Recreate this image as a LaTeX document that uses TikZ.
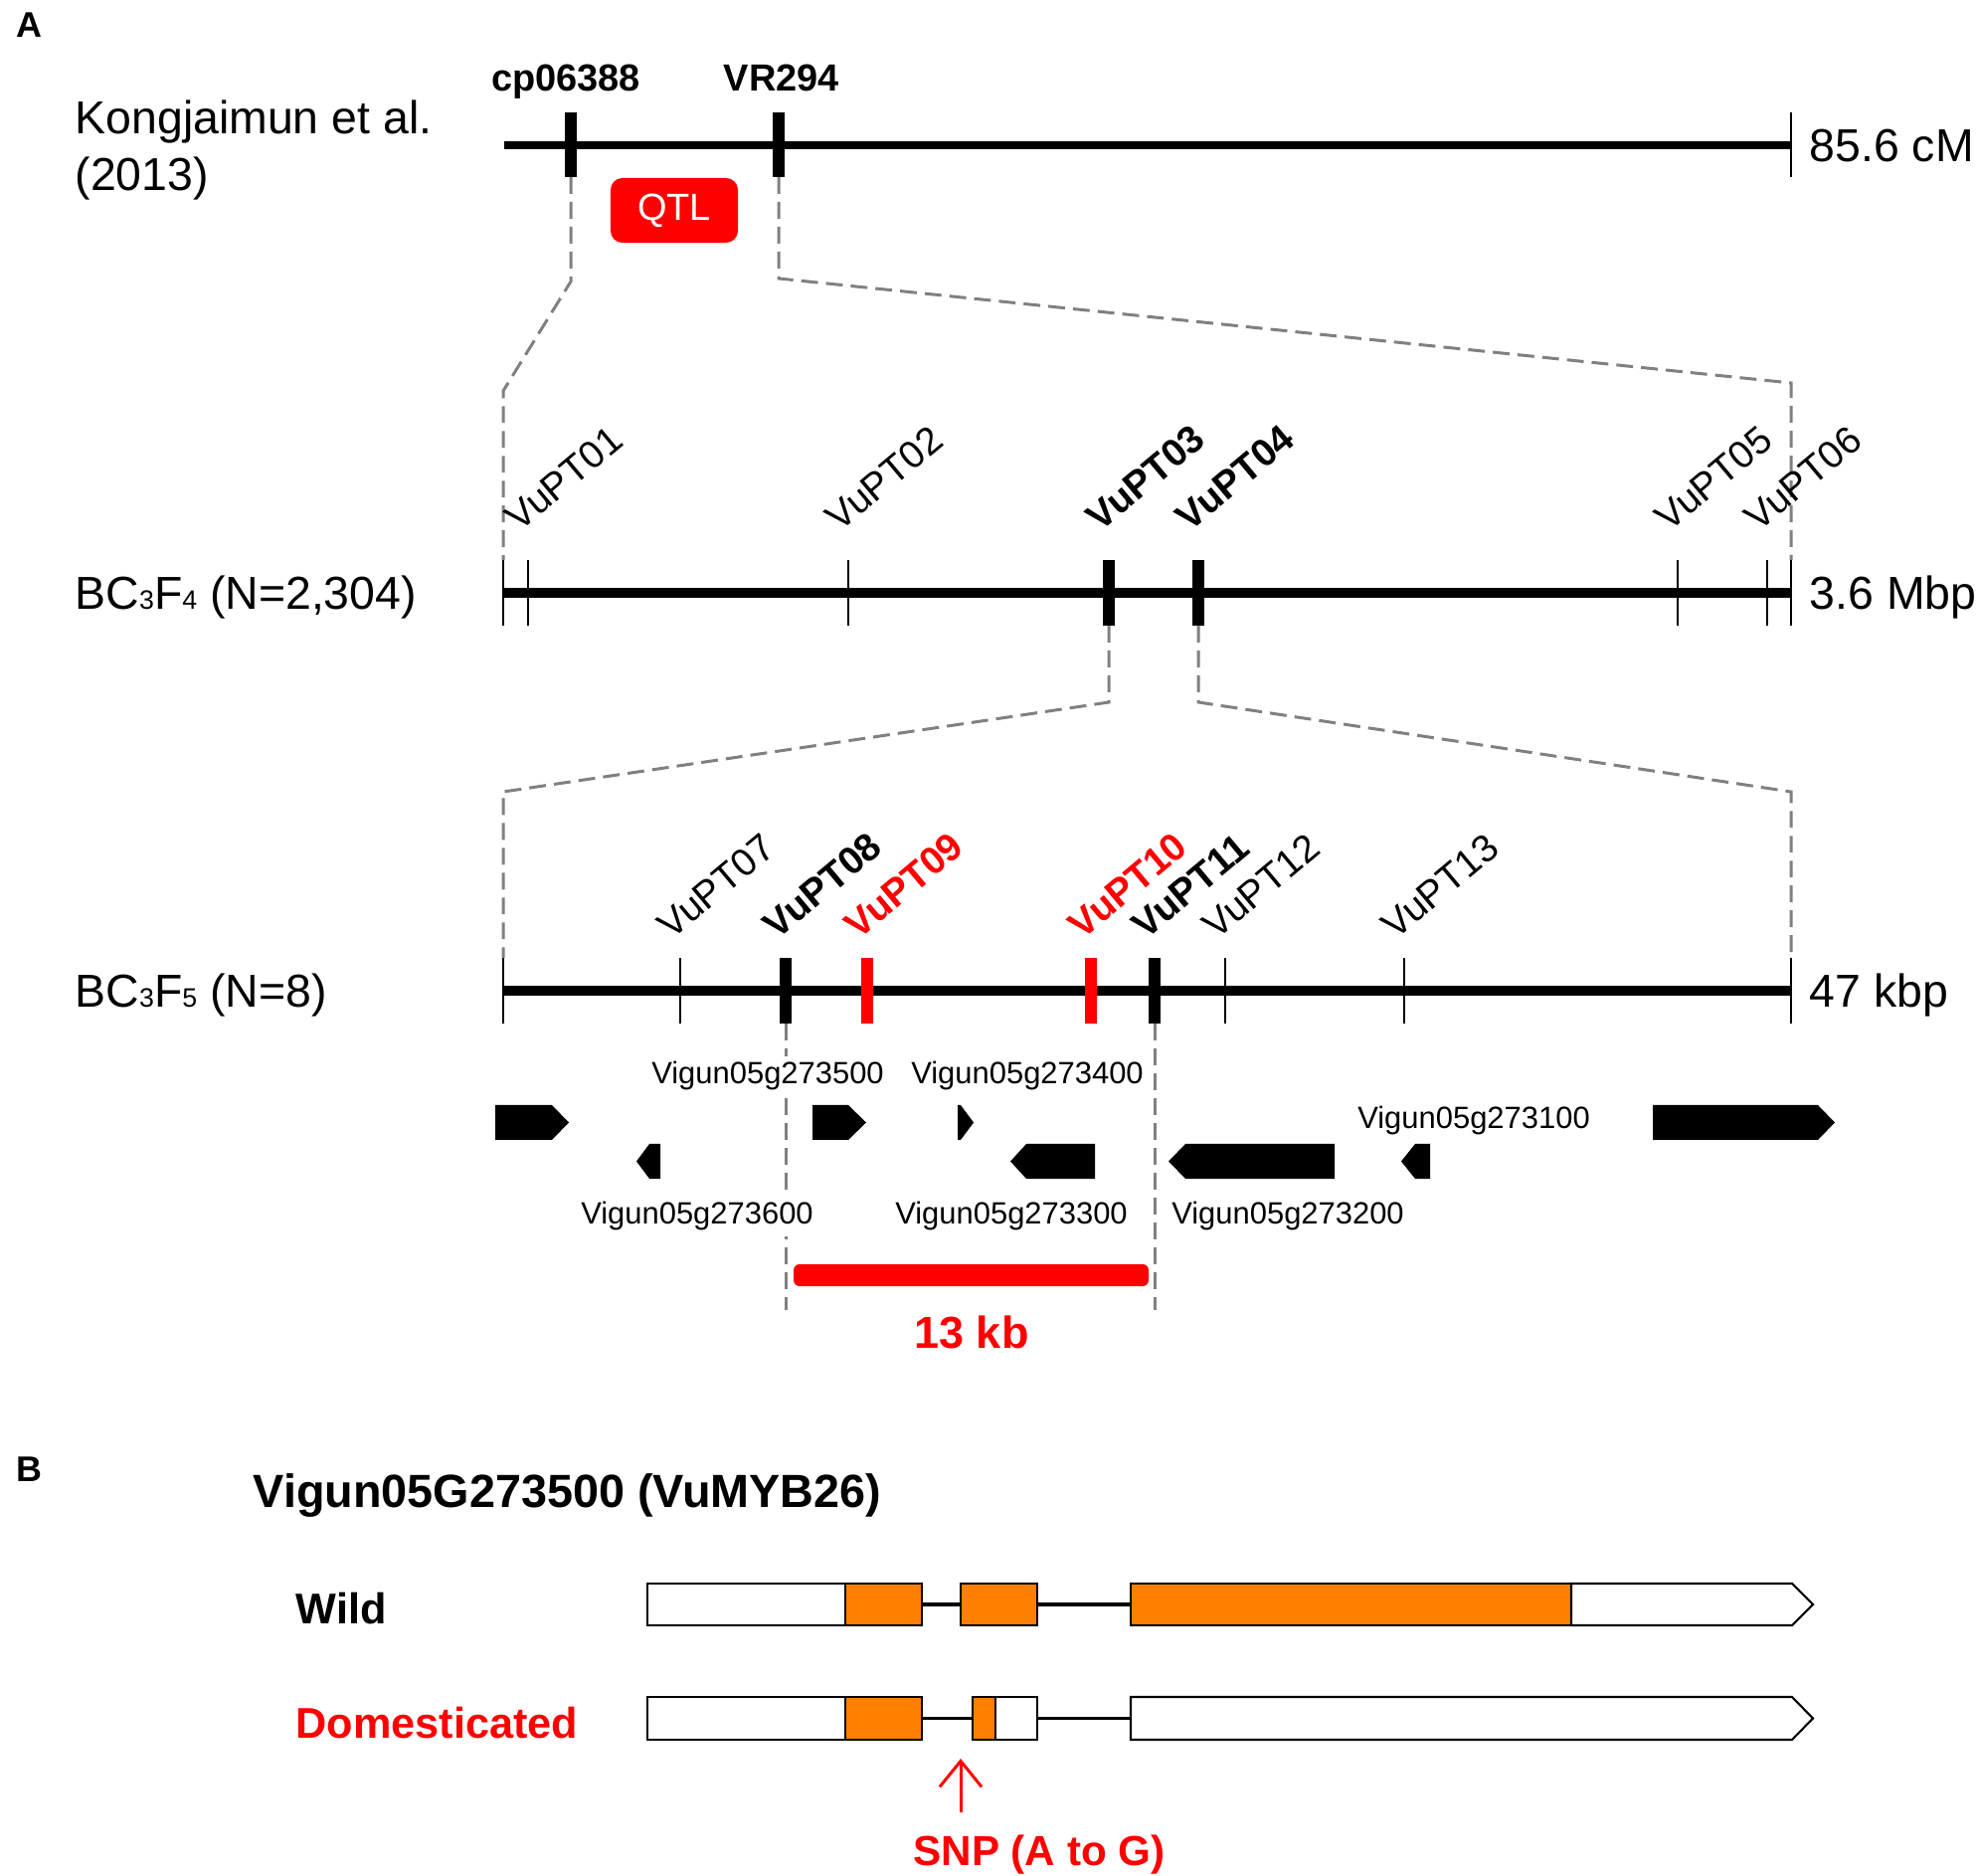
\documentclass[tikz,border=0pt]{standalone}
\usepackage{fontspec}
\setmainfont{Liberation Sans}
\usetikzlibrary{arrows.meta}
\definecolor{myred}{RGB}{255,0,0}
\definecolor{myorange}{RGB}{255,128,0}
\definecolor{dgray}{RGB}{128,128,128}
\newcommand{\myfs}[1]{\fontsize{#1}{#1}\selectfont}
\begin{document}
\begin{tikzpicture}[x=0.01cm,y=-0.01cm,
  lbl/.style={inner sep=0pt, anchor=base west, font=\myfs{13.2pt}},
  mk/.style={inner sep=0pt, anchor=base west, rotate=40, font=\myfs{11pt}},
  mkb/.style={inner sep=0pt, anchor=base west, rotate=40, font=\myfs{11pt}\bfseries},
  gl/.style={inner sep=1.5pt, fill=white, anchor=base, font=\myfs{8.8pt}},
  chromA/.style={line width=2.3pt},
  chrom/.style={line width=2.6pt},
  thintick/.style={line width=0.75pt},
  thicktick/.style={line width=3.3pt},
  zoomdash/.style={dgray, line width=0.85pt, dash pattern=on 4.8pt off 2.3pt},
  exon/.style={draw=black, line width=0.6pt, fill=myorange},
  utr/.style={draw=black, line width=0.6pt, fill=white},
  intron/.style={line width=1pt},
]
\useasboundingbox (0,0) rectangle (1988,1886);

% ---------- panel labels ----------
\node[inner sep=0pt, anchor=base west, font=\myfs{10.2pt}\bfseries] (pA) at (16,38) {A};
\node[inner sep=0pt, anchor=base west, font=\myfs{10.2pt}\bfseries] (pB) at (16,1489) {B};

% ---------- row 1 ----------
\node[lbl] (kong1) at (75,135) {Kongjaimun et al.};
\node[lbl] (kong2) at (75,192) {(2013)};
\draw[chromA] (507,146) -- (1801,146);
\draw[thicktick] (574,113) -- (574,178);
\draw[thicktick] (783,113) -- (783,178);
\draw[thintick] (1801,113) -- (1801,178);
\coordinate (cp) at (574,178);
\coordinate (vr) at (783,178);
\node[inner sep=0pt, anchor=base, font=\myfs{10.8pt}\bfseries] (cpl) at (569,92) {cp06388};
\node[inner sep=0pt, anchor=base, font=\myfs{10.8pt}\bfseries] (vrl) at (786,92) {VR294};
\node[lbl] (cM) at (1819,163) {85.6 cM};
\node[fill=myred, rounded corners=3.4pt, minimum width=1.28cm, minimum height=0.65cm,
      inner sep=0pt, text=white, font=\myfs{10.8pt}] (qtl) at (678,211.5) {QTL};

% ---------- row 2 ----------
\coordinate (r2Ltop) at (506,563);
\coordinate (r2Rtop) at (1801,563);
\coordinate (p03) at (1115,629);
\coordinate (p04) at (1205,629);
\draw[zoomdash] (cp) -- (574,283) -- (506,393) -- (r2Ltop);
\draw[zoomdash] (vr) -- (783,280) -- (1801,385) -- (r2Rtop);

\node[lbl] (bc4) at (75,613) {BC{\myfs{7.6pt}3}F{\myfs{7.6pt}4} (N=2,304)};
\draw[chrom] (506,596) -- (1801,596);
\foreach \x in {506,531,853,1687,1777,1801} \draw[thintick] (\x,563) -- (\x,629);
\foreach \x in {1115,1205} \draw[thicktick] (\x,563) -- (\x,629);
\node[mk]  (m01) at (522,536) {VuPT01};
\node[mk]  (m02) at (844,536) {VuPT02};
\node[mkb] (m03) at (1106,536) {VuPT03};
\node[mkb] (m04) at (1196,536) {VuPT04};
\node[mk]  (m05) at (1678,536) {VuPT05};
\node[mk]  (m06) at (1768,536) {VuPT06};
\node[lbl] (Mbp) at (1819,613) {3.6 Mbp};

% ---------- row 3 ----------
\coordinate (r3Ltop) at (506,963);
\coordinate (r3Rtop) at (1801,963);
\draw[zoomdash] (p03) -- (1115,706) -- (506,796) -- (r3Ltop);
\draw[zoomdash] (p04) -- (1205,706) -- (1801,796) -- (r3Rtop);

\node[lbl] (bc5) at (75,1013) {BC{\myfs{7.6pt}3}F{\myfs{7.6pt}5} (N=8)};
\draw[chrom] (506,996) -- (1801,996);
\foreach \x in {506,684,1232,1412,1801} \draw[thintick] (\x,963) -- (\x,1029);
\foreach \x in {790,1161} \draw[thicktick] (\x,963) -- (\x,1029);
\foreach \x in {872,1097} \draw[thicktick, myred] (\x,963) -- (\x,1029);
\coordinate (p08) at (790,1029);
\coordinate (p11) at (1161,1029);
\coordinate (p08b) at (790,1317);
\coordinate (p11b) at (1161,1317);
\node[mk]  (m07) at (675,946) {VuPT07};
\node[mkb] (m08) at (781,946) {VuPT08};
\node[mkb, text=myred] (m09) at (863,946) {VuPT09};
\node[mkb, text=myred] (m10) at (1088,946) {VuPT10};
\node[mkb] (m11) at (1152,946) {VuPT11};
\node[mk]  (m12) at (1223,946) {VuPT12};
\node[mk]  (m13) at (1403,946) {VuPT13};
\node[lbl] (kbp) at (1819,1013) {47 kbp};

% ---------- genes ----------
\draw[zoomdash] (p08) -- (p08b);
\draw[zoomdash] (p11) -- (p11b);
\node[gl] (g35) at (772,1090) {Vigun05g273500};
\node[gl] (g34) at (1033,1090) {Vigun05g273400};
\node[gl] (g31) at (1482,1135) {Vigun05g273100};
\node[gl] (g36) at (701,1231) {Vigun05g273600};
\node[gl] (g33) at (1017,1231) {Vigun05g273300};
\node[gl] (g32) at (1295,1231) {Vigun05g273200};
% forward genes (upper row)
\fill (498,1111) -- (555,1111) -- (572,1128.5) -- (555,1146) -- (498,1146) -- cycle;
\fill (817,1111) -- (853,1111) -- (871,1128.5) -- (853,1146) -- (817,1146) -- cycle;
\fill (963,1111) -- (966,1111) -- (979,1128.5) -- (966,1146) -- (963,1146) -- cycle;
\fill (1662,1111) -- (1828,1111) -- (1845,1128.5) -- (1828,1146) -- (1662,1146) -- cycle;
% reverse genes (lower row)
\fill (664,1150) -- (653,1150) -- (640,1167.5) -- (653,1185) -- (664,1185) -- cycle;
\fill (1101,1150) -- (1032,1150) -- (1016,1167.5) -- (1032,1185) -- (1101,1185) -- cycle;
\fill (1342,1150) -- (1192,1150) -- (1175,1167.5) -- (1192,1185) -- (1342,1185) -- cycle;
\fill (1438,1150) -- (1423,1150) -- (1409,1167.5) -- (1423,1185) -- (1438,1185) -- cycle;

\fill[myred, rounded corners=1.7pt] (798,1271) rectangle (1155,1293);
\node[inner sep=0pt, anchor=base, text=myred, font=\myfs{12.8pt}\bfseries] (kb13) at (977,1355) {13 kb};

% ---------- panel B ----------
\node[inner sep=0pt, anchor=base west, font=\myfs{13.3pt}\bfseries] (title) at (254,1515) {Vigun05G273500 (VuMYB26)};
\node[inner sep=0pt, anchor=base west, font=\myfs{12.3pt}\bfseries] (wild) at (297,1632) {Wild};
\node[inner sep=0pt, anchor=base west, text=myred, font=\myfs{12.3pt}\bfseries] (dom) at (297,1747) {Domesticated};

% wild
\draw[intron] (927,1613) -- (966,1613);
\draw[intron] (1043,1613) -- (1137,1613);
\draw[utr] (651,1592) rectangle (850,1634);
\draw[exon] (850,1592) rectangle (927,1634);
\draw[exon] (966,1592) rectangle (1043,1634);
\draw[exon] (1137,1592) rectangle (1580,1634);
\draw[utr] (1580,1592) -- (1802,1592) -- (1823,1613) -- (1802,1634) -- (1580,1634) -- cycle;

% domesticated
\draw[intron] (927,1727.5) -- (978,1727.5);
\draw[intron] (1043,1727.5) -- (1137,1727.5);
\draw[utr] (651,1706) rectangle (850,1749);
\draw[exon] (850,1706) rectangle (927,1749);
\draw[utr] (1001,1706) rectangle (1043,1749);
\draw[exon] (978,1706) rectangle (1001,1749);
\draw[utr] (1137,1706) -- (1802,1706) -- (1823,1727.5) -- (1802,1749) -- (1137,1749) -- cycle;

% SNP
\coordinate (snpTip) at (966,1768);
\coordinate (snpTail) at (966,1822);
\draw[myred, line width=0.85pt, -{Straight Barb[length=7.4pt, width=12pt]}] (snpTail) -- (snpTip);
\node[inner sep=0pt, anchor=base, text=myred, font=\myfs{12pt}\bfseries] (snp) at (1045,1875) {SNP (A to G)};
\end{tikzpicture}
\end{document}
